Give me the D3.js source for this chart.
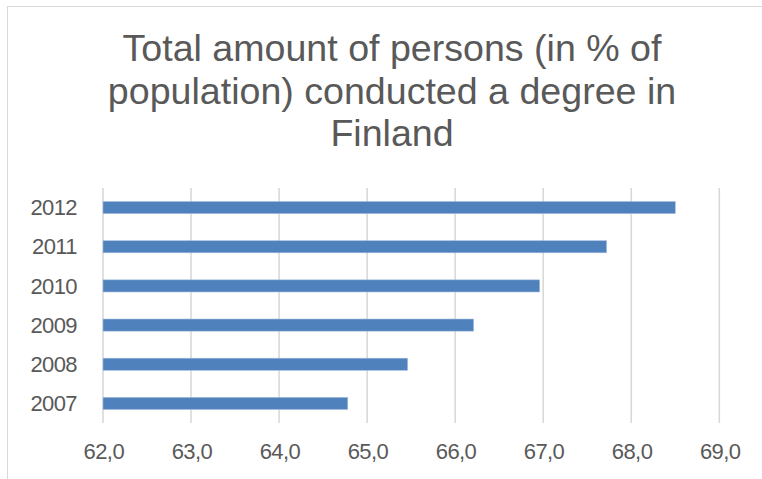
<!DOCTYPE html>
<html>
<head>
<meta charset="utf-8">
<script src="https://cdn.jsdelivr.net/npm/d3@7"></script>
<style>
  html, body { margin: 0; padding: 0; background: #fff; }
  svg { display: block; font-family: "Liberation Sans", Arial, sans-serif; }
</style>
</head>
<body>
<svg id="chart" width="762" height="479"></svg>
<script>
// Share of population holding a degree in Finland, by year
const years = ["2007", "2008", "2009", "2010", "2011", "2012"];
const shares = [64.78, 65.46, 66.21, 66.96, 67.72, 68.5];
const xTicks = [62, 63, 64, 65, 66, 67, 68, 69];
const titleLines = [
  "Total amount of persons (in % of",
  "population) conducted a degree in",
  "Finland"
];

const svg = d3.select("#chart");
const textColor = "#595959";
const gridColor = "#D9D9D9";

// chart area frame
svg.append("rect")
  .attr("x", 7.5).attr("y", 6.5)
  .attr("width", 780).attr("height", 490)
  .attr("fill", "#fff")
  .attr("stroke", gridColor)
  .attr("stroke-width", 1);

// title
svg.append("text")
  .attr("text-anchor", "middle")
  .attr("fill", textColor)
  .attr("font-size", 37.6)
  .selectAll("tspan")
  .data(titleLines)
  .join("tspan")
  .attr("x", 392)
  .attr("y", (d, i) => 60.8 + i * 42.7)
  .text(d => d);

const plot = { left: 103, right: 719.3, top: 188, bottom: 423 };

const x = d3.scaleLinear()
  .domain([62, 69])
  .range([plot.left, plot.right]);

const y = d3.scaleBand()
  .domain(years.slice().reverse())
  .range([plot.top, plot.bottom])
  .paddingInner(0.69)
  .paddingOuter(0.345);

// vertical gridlines
svg.append("g")
  .selectAll("line")
  .data(xTicks)
  .join("line")
  .attr("x1", d => x(d)).attr("x2", d => x(d))
  .attr("y1", plot.top).attr("y2", plot.bottom)
  .attr("stroke", gridColor)
  .attr("stroke-width", 1.6);

// bars
svg.append("g")
  .selectAll("rect")
  .data(years.map((yr, i) => ({ yr, v: shares[i] })))
  .join("rect")
  .attr("x", x(62))
  .attr("y", d => y(d.yr))
  .attr("width", d => x(d.v) - x(62))
  .attr("height", y.bandwidth())
  .attr("fill", "#4F81BD")
  .attr("stroke", "#A7BFDE")
  .attr("stroke-width", 0.6);

// x axis labels
const xAxis = d3.axisBottom(x)
  .tickValues(xTicks)
  .tickSize(0)
  .tickPadding(0)
  .tickFormat(d => d3.format(".1f")(d).replace(".", ","));

const gx = svg.append("g")
  .attr("transform", `translate(0,${plot.bottom})`)
  .call(xAxis);
gx.select(".domain").remove();
gx.selectAll("text")
  .attr("y", 36)
  .attr("dy", 0)
  .attr("dx", "0.3px")
  .attr("fill", textColor)
  .attr("font-size", 22)
  .attr("letter-spacing", "-0.6px")
  .attr("font-family", "'Liberation Sans', Arial, sans-serif");

// y axis labels
const yAxis = d3.axisLeft(y).tickSize(0).tickPadding(0);
const gy = svg.append("g")
  .attr("transform", `translate(${plot.left},0)`)
  .call(yAxis);
gy.select(".domain").remove();
gy.selectAll("text")
  .attr("x", -26)
  .attr("dy", "0.35em")
  .attr("fill", textColor)
  .attr("font-size", 22)
  .attr("letter-spacing", "-0.6px")
  .attr("font-family", "'Liberation Sans', Arial, sans-serif");
</script>
</body>
</html>
